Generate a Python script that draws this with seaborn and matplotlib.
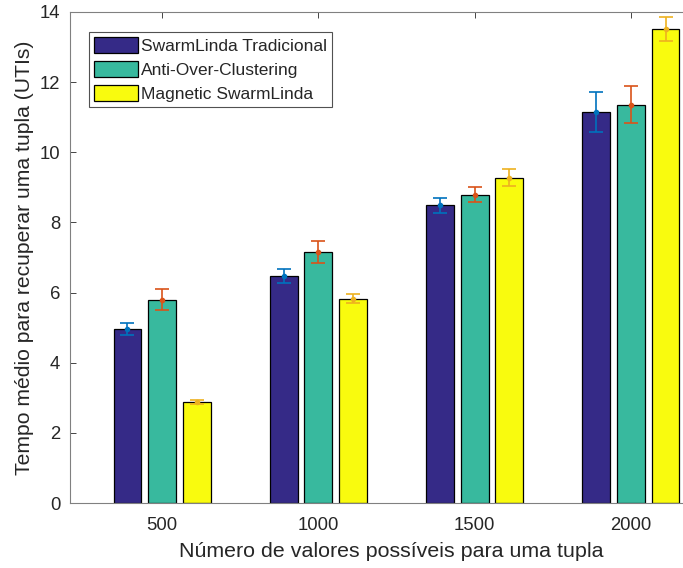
import numpy as np
import pandas as pd
import matplotlib
matplotlib.use("Agg")
import matplotlib.pyplot as plt
import seaborn as sns

categories = ["500", "1000", "1500", "2000"]
series = ["SwarmLinda Tradicional", "Anti-Over-Clustering", "Magnetic SwarmLinda"]
tradicional = [4.97, 6.46, 8.49, 11.15]
anti_over = [5.80, 7.15, 8.79, 11.36]
magnetic = [2.88, 5.82, 9.28, 13.52]
err_tradicional = [0.17, 0.20, 0.21, 0.58]
err_anti_over = [0.31, 0.32, 0.22, 0.53]
err_magnetic = [0.06, 0.13, 0.25, 0.35]

bar_colors = ["#352A87", "#38B99E", "#F9FB0E"]
err_colors = ["#0072BD", "#D95319", "#EDB120"]

values = [tradicional, anti_over, magnetic]
errors = [err_tradicional, err_anti_over, err_magnetic]
rows = []
for s, vals in zip(series, values):
    for c, v in zip(categories, vals):
        rows.append({"cat": c, "serie": s, "valor": v})
df = pd.DataFrame(rows)

sns.set_style("white")
plt.rcParams["font.family"] = ["Liberation Sans", "DejaVu Sans"]

fig = plt.figure(figsize=(6.83, 5.68), dpi=100)
ax = fig.add_axes([70/683, 65/568, 653/683, 491/568])

sns.barplot(data=df, x="cat", y="valor", hue="serie", order=categories,
            hue_order=series, palette=bar_colors, width=0.667, gap=0.2,
            edgecolor="black", linewidth=0.9, errorbar=None, ax=ax,
            saturation=1)

bar_containers = list(ax.containers)
for i, cont in enumerate(bar_containers):
    xs = [p.get_x() + p.get_width() / 2 for p in cont.patches]
    ax.errorbar(xs, values[i], yerr=errors[i], fmt="o", markersize=3,
                color=err_colors[i], ecolor=err_colors[i], elinewidth=1.2,
                capsize=5, capthick=1.2, zorder=5)

ax.set_xlim(-0.59, 3.59)
ax.set_ylim(0, 14)
ax.set_yticks(np.arange(0, 15, 2))
ax.set_xlabel("Número de valores possíveis para uma tupla", fontsize=15.4,
              color="#262626", labelpad=6)
ax.xaxis.label.set_x(0.4916)
ax.set_ylabel("Tempo médio para recuperar uma tupla (UTIs)", fontsize=15.2,
              color="#262626", labelpad=4)
ax.tick_params(direction="in", length=4, labelsize=13.3, colors="#262626",
               top=True, right=True, bottom=True, left=True, width=0.6)
ax.tick_params(axis="x", pad=10)
ax.tick_params(axis="y", pad=7)
for sp in ax.spines.values():
    sp.set_color("#808080")
    sp.set_linewidth(0.8)

leg = ax.legend(loc="upper left", bbox_to_anchor=(19/653, 1 - 20/491), fontsize=12.5,
                frameon=True, fancybox=False, edgecolor="#262626",
                handlelength=2.5, handleheight=1.05, borderpad=0.3,
                labelspacing=0.4, handletextpad=0.2, borderaxespad=0)
leg.get_frame().set_linewidth(0.8)

fig.savefig("out.png", dpi=100)
